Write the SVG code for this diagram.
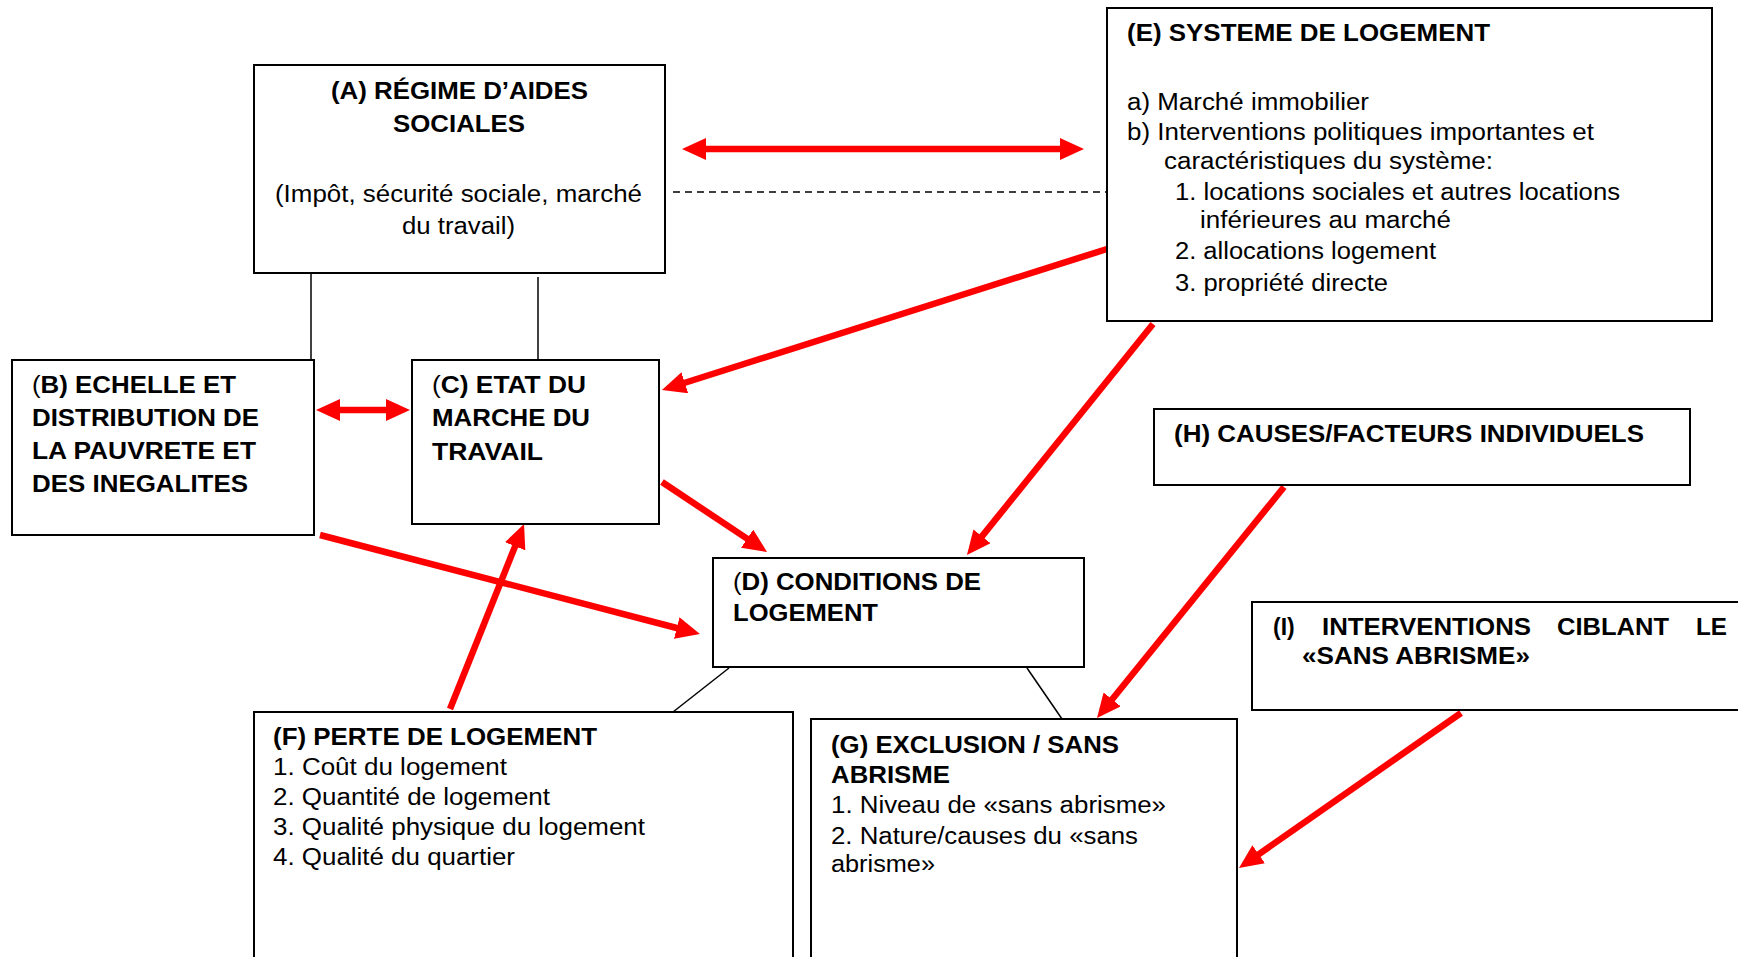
<svg xmlns="http://www.w3.org/2000/svg" width="1738" height="957" viewBox="0 0 1738 957">
<style>
  text { font-family: "Liberation Sans", Arial, sans-serif; font-size: 23px; fill: #000; }
  .b { font-weight: bold; }
  .n { font-weight: normal; }
  .box { fill: #fff; stroke: #000; stroke-width: 2; }
  .thin { stroke: #000; stroke-width: 1.5; fill: none; }
  .dash { stroke: #000; stroke-width: 1.5; stroke-dasharray: 7 5; fill: none; }
  .red { stroke: #ff0000; stroke-width: 6.5; fill: none; }
</style>
<defs>
  <marker id="ah" viewBox="0 0 24 22" refX="4" refY="11" markerWidth="24" markerHeight="22" markerUnits="userSpaceOnUse" orient="auto-start-reverse">
    <path d="M0,0 L24,11 L0,22 z" fill="#ff0000"/>
  </marker>
</defs>

<g id="connectors">
  <line class="thin" x1="311" y1="274" x2="311" y2="360"/>
  <line class="thin" x1="538" y1="277" x2="538" y2="360"/>
  <line class="dash" x1="673" y1="192" x2="1107" y2="192"/>
  <line class="thin" x1="729" y1="668" x2="673" y2="712"/>
  <line class="thin" x1="1027" y1="668" x2="1062" y2="719"/>
  <line class="red" x1="702" y1="149" x2="1064" y2="149" marker-start="url(#ah)" marker-end="url(#ah)"/>
  <line class="red" x1="336" y1="410" x2="390" y2="410" marker-start="url(#ah)" marker-end="url(#ah)"/>
  <line class="red" x1="1107" y1="249" x2="681" y2="384" marker-end="url(#ah)"/>
  <line class="red" x1="1153" y1="324" x2="979.5" y2="539.4" marker-end="url(#ah)"/>
  <line class="red" x1="662" y1="482" x2="750.4" y2="540.9" marker-end="url(#ah)"/>
  <line class="red" x1="320" y1="535" x2="680.6" y2="629" marker-end="url(#ah)"/>
  <line class="red" x1="450" y1="709" x2="516.6" y2="542.6" marker-end="url(#ah)"/>
  <line class="red" x1="1284" y1="487" x2="1109.6" y2="702.5" marker-end="url(#ah)"/>
  <line class="red" x1="1461" y1="713" x2="1255.4" y2="856.6" marker-end="url(#ah)"/>
</g>

<g id="nodeA">
  <rect class="box" x="254" y="65" width="411" height="208"/>
  <text class="b" x="331" y="99" textLength="257" lengthAdjust="spacingAndGlyphs">(A) RÉGIME D’AIDES</text>
  <text class="b" x="393" y="132" textLength="132" lengthAdjust="spacingAndGlyphs">SOCIALES</text>
  <text x="275" y="202" textLength="367" lengthAdjust="spacingAndGlyphs">(Impôt, sécurité sociale, marché</text>
  <text x="402" y="234" textLength="113" lengthAdjust="spacingAndGlyphs">du travail)</text>
</g>

<g id="nodeE">
  <rect class="box" x="1107" y="8" width="605" height="313"/>
  <text class="b" x="1127" y="41" textLength="363" lengthAdjust="spacingAndGlyphs">(E) SYSTEME DE LOGEMENT</text>
  <text x="1127" y="110" textLength="242" lengthAdjust="spacingAndGlyphs">a) Marché immobilier</text>
  <text x="1127" y="140" textLength="467" lengthAdjust="spacingAndGlyphs">b) Interventions politiques importantes et</text>
  <text x="1164" y="169" textLength="329" lengthAdjust="spacingAndGlyphs">caractéristiques du système:</text>
  <text x="1175" y="200" textLength="445" lengthAdjust="spacingAndGlyphs">1. locations sociales et autres locations</text>
  <text x="1200" y="228" textLength="251" lengthAdjust="spacingAndGlyphs">inférieures au marché</text>
  <text x="1175" y="259" textLength="261" lengthAdjust="spacingAndGlyphs">2. allocations logement</text>
  <text x="1175" y="291" textLength="213" lengthAdjust="spacingAndGlyphs">3. propriété directe</text>
</g>

<g id="nodeB">
  <rect class="box" x="12" y="360" width="302" height="175"/>
  <text class="b" x="32" y="393" textLength="204" lengthAdjust="spacingAndGlyphs"><tspan class="n">(</tspan>B) ECHELLE ET</text>
  <text class="b" x="32" y="426" textLength="227" lengthAdjust="spacingAndGlyphs">DISTRIBUTION DE</text>
  <text class="b" x="32" y="459" textLength="224" lengthAdjust="spacingAndGlyphs">LA PAUVRETE ET</text>
  <text class="b" x="32" y="492" textLength="216" lengthAdjust="spacingAndGlyphs">DES INEGALITES</text>
</g>

<g id="nodeC">
  <rect class="box" x="412" y="360" width="247" height="164"/>
  <text class="b" x="432" y="393" textLength="154" lengthAdjust="spacingAndGlyphs"><tspan class="n">(</tspan>C) ETAT DU</text>
  <text class="b" x="432" y="426" textLength="158" lengthAdjust="spacingAndGlyphs">MARCHE DU</text>
  <text class="b" x="432" y="460" textLength="111" lengthAdjust="spacingAndGlyphs">TRAVAIL</text>
</g>

<g id="nodeD">
  <rect class="box" x="713" y="558" width="371" height="109"/>
  <text class="b" x="733" y="590" textLength="248" lengthAdjust="spacingAndGlyphs"><tspan class="n">(</tspan>D) CONDITIONS DE</text>
  <text class="b" x="733" y="621" textLength="145" lengthAdjust="spacingAndGlyphs">LOGEMENT</text>
</g>

<g id="nodeH">
  <rect class="box" x="1154" y="409" width="536" height="76"/>
  <text class="b" x="1174" y="442" textLength="470" lengthAdjust="spacingAndGlyphs">(H) CAUSES/FACTEURS INDIVIDUELS</text>
</g>

<g id="nodeI">
  <rect class="box" x="1252" y="602" width="490" height="108"/>
  <text class="b" x="1273" y="635">(I)</text>
  <text class="b" x="1322" y="635" textLength="209" lengthAdjust="spacingAndGlyphs">INTERVENTIONS</text>
  <text class="b" x="1557" y="635" textLength="112" lengthAdjust="spacingAndGlyphs">CIBLANT</text>
  <text class="b" x="1696" y="635" textLength="31" lengthAdjust="spacingAndGlyphs">LE</text>
  <text class="b" x="1302" y="664" textLength="228" lengthAdjust="spacingAndGlyphs">«SANS ABRISME»</text>
</g>

<g id="nodeF">
  <rect class="box" x="254" y="712" width="539" height="260"/>
  <text class="b" x="273" y="745" textLength="324" lengthAdjust="spacingAndGlyphs">(F) PERTE DE LOGEMENT</text>
  <text x="273" y="775" textLength="234" lengthAdjust="spacingAndGlyphs">1. Coût du logement</text>
  <text x="273" y="805" textLength="277" lengthAdjust="spacingAndGlyphs">2. Quantité de logement</text>
  <text x="273" y="835" textLength="372" lengthAdjust="spacingAndGlyphs">3. Qualité physique du logement</text>
  <text x="273" y="865" textLength="242" lengthAdjust="spacingAndGlyphs">4. Qualité du quartier</text>
</g>

<g id="nodeG">
  <rect class="box" x="811" y="719" width="426" height="253"/>
  <text class="b" x="831" y="753" textLength="288" lengthAdjust="spacingAndGlyphs">(G) EXCLUSION / SANS</text>
  <text class="b" x="831" y="783" textLength="119" lengthAdjust="spacingAndGlyphs">ABRISME</text>
  <text x="831" y="813" textLength="335" lengthAdjust="spacingAndGlyphs">1. Niveau de «sans abrisme»</text>
  <text x="831" y="844" textLength="307" lengthAdjust="spacingAndGlyphs">2. Nature/causes du «sans</text>
  <text x="831" y="872" textLength="104" lengthAdjust="spacingAndGlyphs">abrisme»</text>
</g>
</svg>
